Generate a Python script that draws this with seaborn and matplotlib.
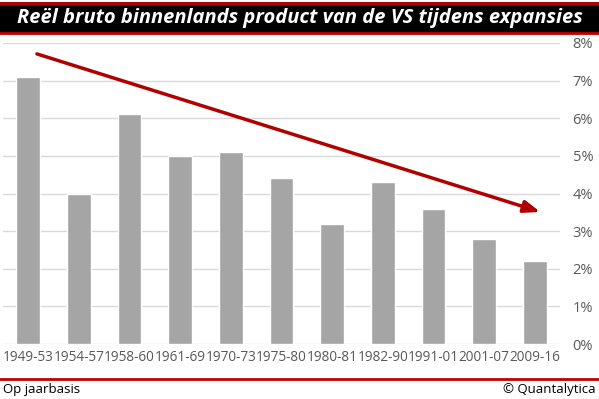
import matplotlib
matplotlib.use("Agg")
import matplotlib.pyplot as plt
import seaborn as sns
import pandas as pd
from matplotlib.patches import Rectangle
from matplotlib.lines import Line2D

periods = ["1949-53", "1954-57", "1958-60", "1961-69", "1970-73", "1975-80",
           "1980-81", "1982-90", "1991-01", "2001-07", "2009-16"]
growth = [7.1, 4.0, 6.1, 5.0, 5.1, 4.4, 3.2, 4.3, 3.6, 2.8, 2.2]
yticks = [0, 1, 2, 3, 4, 5, 6, 7, 8]
ytick_labels = [f"{v}%" for v in yticks]
trend_x = [0.17, 10.11]
trend_y = [7.71, 3.51]

title = "Reël bruto binnenlands product van de VS tijdens expansies"
footer_left = "Op jaarbasis"
footer_right = "© Quantalytica"

sns.set_theme(style="white")
plt.rcParams['font.family'] = ['Open Sans', 'DejaVu Sans']

df = pd.DataFrame({"period": periods, "growth": growth})

fig = plt.figure(figsize=(5.99, 3.99), dpi=100)
ax = fig.add_axes([3/599, 1-344/399, 557/599, 301/399])
sns.barplot(data=df, x="period", y="growth", color="#A5A5A5", width=0.47,
            saturation=1, ax=ax, zorder=3)
ax.set_ylim(0, 8)
ax.set_xlim(-0.5, len(periods)-0.5)
ax.set_yticks(yticks)
ax.set_yticklabels(ytick_labels)
ax.yaxis.tick_right()
ax.tick_params(axis="y", length=0, pad=9, labelsize=10.5, labelcolor="#595959")
ax.tick_params(axis="x", length=0, pad=4, labelsize=9.8, labelcolor="#595959")
ax.set_xlabel("")
ax.set_ylabel("")
for s in ax.spines.values():
    s.set_visible(False)
ax.grid(axis="y", color="#D9D9D9", linewidth=1, zorder=0)
ax.set_axisbelow(True)

ax.annotate("", xy=(trend_x[1], trend_y[1]), xytext=(trend_x[0], trend_y[0]),
            arrowprops=dict(arrowstyle="-|>,head_length=0.8,head_width=0.3",
                            color="#B00000", lw=2.5, shrinkA=0, shrinkB=0),
            zorder=5)

# title band
fig.patches.append(Rectangle((0, 1-33/399), 1, 31/399, transform=fig.transFigure,
                             facecolor="black", edgecolor="none", zorder=0))
fig.lines.append(Line2D([0, 1], [1-2.5/399, 1-2.5/399], transform=fig.transFigure,
                        color="#C00000", lw=2))
fig.lines.append(Line2D([0, 1], [1-32.5/399, 1-32.5/399], transform=fig.transFigure,
                        color="#C00000", lw=2))
fig.text(0.5, 1-18/399, title, color="white", fontsize=14.5, fontweight="bold",
         fontstyle="italic", ha="center", va="center")

fig.lines.append(Line2D([0, 1], [1-379/399, 1-379/399], transform=fig.transFigure,
                        color="#C00000", lw=2))
fig.text(3/599, 1-390/399, footer_left, fontsize=9.5, color="black", ha="left", va="center")
fig.text(596/599, 1-390/399, footer_right, fontsize=9.5, color="black", ha="right", va="center")

fig.savefig("out.png", dpi=100)
